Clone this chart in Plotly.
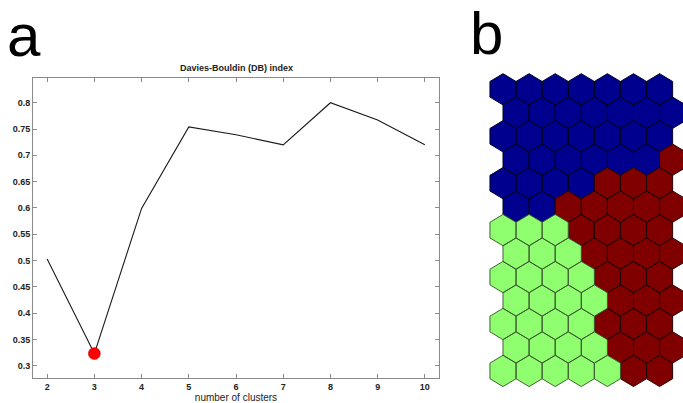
import math
import plotly.graph_objects as go

# ---------------- data ----------------
n_clusters = [2, 3, 4, 5, 6, 7, 8, 9, 10]
db_index = [0.503, 0.323, 0.599, 0.754, 0.739, 0.720, 0.800, 0.767, 0.720]
y_ticks = [0.3, 0.35, 0.4, 0.45, 0.5, 0.55, 0.6, 0.65, 0.7, 0.75, 0.8]
y_tick_labels = ["0.3", "0.35", "0.4", "0.45", "0.5", "0.55", "0.6", "0.65", "0.7", "0.75", "0.8"]
x_ticks = [2, 3, 4, 5, 6, 7, 8, 9, 10]

# SOM map cluster labels (13 rows x 7 cols), B=blue, R=red, G=green
som_rows = [
    "BBBBBBB",
    "BBBBBBB",
    "BBBBBBB",
    "BBBBBBR",
    "BBBBRRR",
    "BBRRRRR",
    "GGGRRRR",
    "GGGRRRR",
    "GGGGRRR",
    "GGGGRRR",
    "GGGGRRR",
    "GGGGRRR",
    "GGGGGRR",
]
cluster_colors = {"B": "#00008f", "R": "#800000", "G": "#8fff70"}
cluster_edges = {"B": "rgba(0,0,30,0.95)", "R": "rgba(30,0,0,0.95)", "G": "rgba(60,90,50,0.95)"}

fig = go.Figure()

# ---------------- panel a ----------------
fig.add_trace(go.Scatter(x=n_clusters, y=db_index, mode="lines",
                         line=dict(color="#1a1a1a", width=1.1),
                         xaxis="x", yaxis="y", hoverinfo="skip"))
imin = min(range(len(db_index)), key=lambda i: db_index[i])
fig.add_trace(go.Scatter(x=[n_clusters[imin]], y=[db_index[imin]], mode="markers",
                         marker=dict(color="#ff0000", size=12, line=dict(width=0.5, color="#cc0000")),
                         xaxis="x", yaxis="y"))

# ---------------- panel b (hex SOM) ----------------
s = 1 / math.sqrt(3)
angles = [math.radians(90 + 60 * k) for k in range(7)]
for key in ["B", "R", "G"]:
    xs, ys = [], []
    for r, row in enumerate(som_rows):
        for c, lab in enumerate(row):
            if lab != key:
                continue
            cx = c + 0.5 * (r % 2)
            cy = -r * math.sqrt(3) / 2
            for a in angles:
                xs.append(cx + s * math.cos(a))
                ys.append(cy + s * math.sin(a))
            xs.append(None)
            ys.append(None)
    fig.add_trace(go.Scatter(x=xs, y=ys, mode="lines", fill="toself",
                             fillcolor=cluster_colors[key],
                             line=dict(color=cluster_edges[key], width=1),
                             xaxis="x2", yaxis="y2", hoverinfo="skip"))

axis_col = "#8c8c8c"
tfont = dict(family="Liberation Sans, Arial", size=9, color="#222222", weight="bold")
big = dict(family="Liberation Sans Narrow, Liberation Sans, Arial", size=60, color="black")

fig.update_layout(
    width=683, height=403,
    margin=dict(l=0, r=0, t=0, b=0),
    paper_bgcolor="white", plot_bgcolor="white",
    showlegend=False,
    xaxis=dict(domain=[33 / 683, 439 / 683], range=[1.7, 10.3],
               tickvals=x_ticks, ticks="inside", ticklen=4, tickcolor=axis_col,
               showline=True, linecolor=axis_col, linewidth=1, mirror="ticks",
               showgrid=False, zeroline=False, tickfont=tfont,
               title=dict(text="number of clusters", standoff=2,
                          font=dict(family="Liberation Sans, Arial", size=10, color="#222222"))),
    yaxis=dict(domain=[25 / 403, 325 / 403], range=[0.2766, 0.847],
               tickvals=y_ticks, ticktext=y_tick_labels, ticks="inside", ticklen=4,
               tickcolor=axis_col, showline=True, linecolor=axis_col, linewidth=1,
               mirror="ticks", showgrid=False, zeroline=False, tickfont=tfont),
    xaxis2=dict(domain=[470 / 683, 1], range=[-1.264, 6.897], visible=False,
                showgrid=False, zeroline=False),
    yaxis2=dict(domain=[0, 1], range=[-11.576, 3.295], visible=False,
                showgrid=False, zeroline=False, anchor="x2"),
    annotations=[
        dict(text="<b>Davies-Bouldin (DB) index</b>", x=236 / 683, y=1 - 68 / 403,
             xref="paper", yref="paper", showarrow=False, xanchor="center", yanchor="middle",
             font=dict(family="Liberation Sans, Arial", size=9, color="#222222")),
        dict(text="a", x=5 / 683, y=1 - 35 / 403, xref="paper", yref="paper",
             showarrow=False, xanchor="left", yanchor="middle", font=big),
        dict(text="b", x=468 / 683, y=1 - 33 / 403, xref="paper", yref="paper",
             showarrow=False, xanchor="left", yanchor="middle", font=big),
    ],
)

fig.write_html("out.html")
